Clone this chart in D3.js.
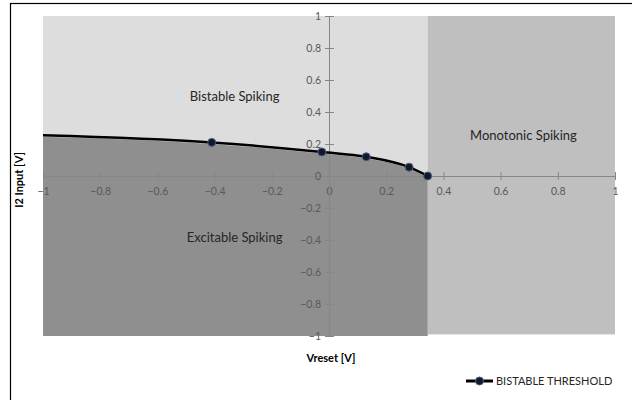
<!DOCTYPE html>
<html><head><meta charset="utf-8">
<script src="https://cdn.jsdelivr.net/npm/d3@7"></script>
<style>body{margin:0;background:#fff}svg{display:block}</style>
</head><body><svg id="c" width="632" height="400"></svg>
<script>
// ---- data ----
const xTicks = [-1,-0.8,-0.6,-0.4,-0.2,0,0.2,0.4,0.6,0.8,1];
const yTicks = [-1,-0.8,-0.6,-0.4,-0.2,0,0.2,0.4,0.6,0.8,1];
const thresholdX = [-1, -0.41, -0.025, 0.13, 0.28, 0.345];
const thresholdY = [0.255, 0.21, 0.15, 0.12, 0.055, 0.0];
const markerShown = [false, true, true, true, true, true];
const regionNames = ["Bistable Spiking", "Monotonic Spiking", "Excitable Spiking"];
const regionX0 = [-1, 0.345, -1];
const regionX1 = [0.345, 1, 0.345];
const regionY0 = [-1, -0.99, -1];
const regionY1 = [1, 1, null]; // excitable bounded by threshold curve
const labelX = [-0.33, 0.68, -0.33];
const labelY = [0.49, 0.245, -0.39];
const seriesName = "BISTABLE THRESHOLD";

// ---- drawing ----
const svg = d3.select("#c");
const font = "Lato, 'Open Sans', sans-serif";
const x = d3.scaleLinear().domain([-1,1]).range([43,615]);
const y = d3.scaleLinear().domain([-1,1]).range([336,16]);

// frame
svg.append("rect").attr("x",10.5).attr("y",3.5).attr("width",640).attr("height",420)
  .attr("fill","none").attr("stroke","#000").attr("stroke-width",1.2);

const fills = ["#dddddd","#bfbfbf"];
[0,1].forEach(i=>{
  svg.append("rect").attr("x",x(regionX0[i])).attr("y",y(regionY1[i]))
    .attr("width",x(regionX1[i])-x(regionX0[i])).attr("height",y(regionY0[i])-y(regionY1[i]))
    .attr("fill",fills[i]);
});

const pts = thresholdX.map((v,i)=>({x:v,y:thresholdY[i],m:markerShown[i]}));
const area = d3.area().x(d=>x(d.x)).y0(y(regionY0[2])).y1(d=>y(d.y)+1.5).curve(d3.curveMonotoneX);
svg.append("path").datum(pts).attr("d",area).attr("fill","#8f8f8f");

// axes
const gx = svg.append("g").attr("transform",`translate(0,${y(0)})`);
gx.call(d3.axisBottom(x).tickValues(xTicks).tickSize(0).tickFormat(d3.format("")));
const gy = svg.append("g").attr("transform",`translate(${x(0)},0)`);
gy.call(d3.axisLeft(y).tickValues(yTicks).tickSize(0).tickFormat(d3.format("")));
[gx,gy].forEach(g=>{
  g.select(".domain").attr("stroke","#868686").attr("stroke-width",1);
  g.selectAll("text").attr("fill","#595959").style("font-family",font).style("font-size","10.5px");
});
gx.selectAll(".tick line").attr("y1",-4).attr("y2",4).attr("stroke","#868686");
gx.selectAll(".tick text").attr("dy","0.71em").attr("y",12);
gy.selectAll(".tick line").attr("x1",-4).attr("x2",5).attr("stroke","#868686");
gy.selectAll(".tick text").attr("x",-8);

// threshold line
const line = d3.line().x(d=>x(d.x)).y(d=>y(d.y)).curve(d3.curveMonotoneX);
svg.append("path").datum(pts).attr("d",line).attr("fill","none").attr("stroke","#000").attr("stroke-width",2.5);
svg.selectAll(".mk").data(pts.filter(d=>d.m)).join("circle").attr("class","mk")
  .attr("cx",d=>x(d.x)).attr("cy",d=>y(d.y)).attr("r",4)
  .attr("fill","#15182a").attr("stroke","#4b6283").attr("stroke-width",1);

// region labels
regionNames.forEach((n,i)=>{
  svg.append("text").attr("x",x(labelX[i])).attr("y",y(labelY[i])).attr("text-anchor","middle")
    .attr("dominant-baseline","middle").attr("fill","#262626")
    .style("font-family",font).style("font-size","13px").text(n);
});

// axis titles
svg.append("text").attr("x",331).attr("y",362).attr("text-anchor","middle")
  .style("font-family",font).style("font-size","11px").style("font-weight","bold").attr("fill","#000").text("Vreset [V]");
svg.append("text").attr("transform","translate(23,180) rotate(-90)").attr("text-anchor","middle")
  .style("font-family",font).style("font-size","11px").style("font-weight","bold").attr("fill","#000").text("I2 Input [V]");

// legend
const lg = svg.append("g").attr("transform","translate(466,381)");
lg.append("line").attr("x1",0).attr("x2",27).attr("stroke","#000").attr("stroke-width",3);
lg.append("circle").attr("cx",13.5).attr("r",4).attr("fill","#15182a").attr("stroke","#4b6283");
lg.append("text").attr("x",30).attr("dy","0.35em").attr("fill","#262626")
  .style("font-family",font).style("font-size","11px").text(seriesName);
</script></body></html>
